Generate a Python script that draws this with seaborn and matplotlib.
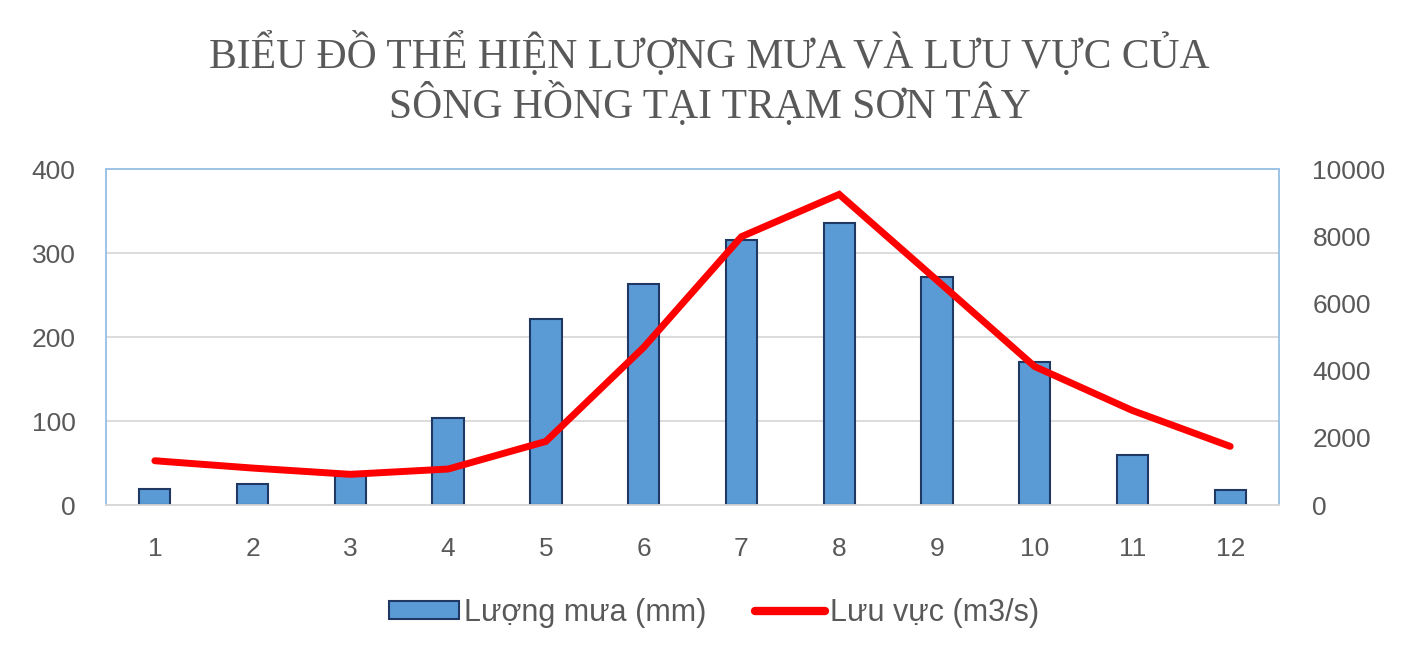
import numpy as np
import pandas as pd
import matplotlib
matplotlib.use("Agg")
import matplotlib.pyplot as plt
import seaborn as sns
from matplotlib.patches import Patch
from matplotlib.lines import Line2D

months = ["1", "2", "3", "4", "5", "6", "7", "8", "9", "10", "11", "12"]
rain_mm = [19.5, 25.6, 34.5, 104.2, 222.0, 262.8, 315.7, 335.2, 271.9, 170.1, 59.9, 17.8]
flow_m3s = [1318, 1100, 914, 1071, 1893, 4692, 7986, 9246, 6690, 4122, 2813, 1746]
title = "BIỂU ĐỒ THỂ HIỆN LƯỢNG MƯA VÀ LƯU VỰC CỦA\nSÔNG HỒNG TẠI TRẠM SƠN TÂY"
label_rain = "Lượng mưa (mm)"
label_flow = "Lưu vực (m3/s)"

sns.set_theme(style="white")
plt.rcParams["font.family"] = ["Liberation Sans", "DejaVu Sans"]

gray = "#595959"
df = pd.DataFrame({"month": months, "rain": rain_mm, "flow": flow_m3s})
df["pos"] = np.arange(len(months))

fig = plt.figure(figsize=(14.11, 6.66), dpi=100)
ax = fig.add_axes([0.0751, 0.2417, 0.8314, 0.5045])

sns.barplot(data=df, x="month", y="rain", ax=ax, color="#5B9BD5",
            edgecolor="#1F3864", linewidth=1.5, width=0.32, saturation=1, zorder=3)
ax.set_ylim(0, 400)
ax.set_yticks([0, 100, 200, 300, 400])
ax.set_xlim(-0.5, 11.5)
ax.grid(axis="y", color="#D9D9D9", linewidth=1.3, zorder=0)
ax.set_axisbelow(True)
ax.set_xlabel("")
ax.set_ylabel("")
ax.tick_params(axis="both", length=0, labelsize=19, labelcolor=gray)
ax.tick_params(axis="y", pad=22)
ax.tick_params(axis="x", pad=23)

ax2 = ax.twinx()
sns.lineplot(data=df, x="pos", y="flow", ax=ax2, color="#FF0000", linewidth=5,
             solid_capstyle="round", solid_joinstyle="miter", zorder=4)
ax2.set_ylim(0, 10000)
ax2.set_yticks([0, 2000, 4000, 6000, 8000, 10000])
ax2.set_xlim(-0.5, 11.5)
ax2.set_ylabel("")
ax2.set_xlabel("")
ax2.tick_params(axis="y", length=0, labelsize=19, labelcolor=gray, pad=24)
ax2.grid(False)

for a in (ax, ax2):
    for s in ["left", "top", "right"]:
        a.spines[s].set_color("#9DC3E6")
        a.spines[s].set_linewidth(1.2)
    a.spines["bottom"].set_color("#D9D9D9")
    a.spines["bottom"].set_linewidth(1.3)

fig.text(0.503, 0.881, title, ha="center", va="center", fontsize=30,
         family=["Liberation Serif", "DejaVu Serif"], color=gray, linespacing=1.15)

handles = [Patch(facecolor="#5B9BD5", edgecolor="#1F3864", linewidth=1.5),
           Line2D([0], [0], color="#FF0000", linewidth=6, solid_capstyle="round")]
leg = fig.legend(handles, [label_rain, label_flow], loc="center", bbox_to_anchor=(0.506, 0.0796),
                 ncol=2, frameon=False, fontsize=22, handlelength=2.3, handleheight=0.55,
                 handletextpad=0.15, columnspacing=1.6)
for t in leg.get_texts():
    t.set_color(gray)

fig.savefig("out.png", dpi=100)
